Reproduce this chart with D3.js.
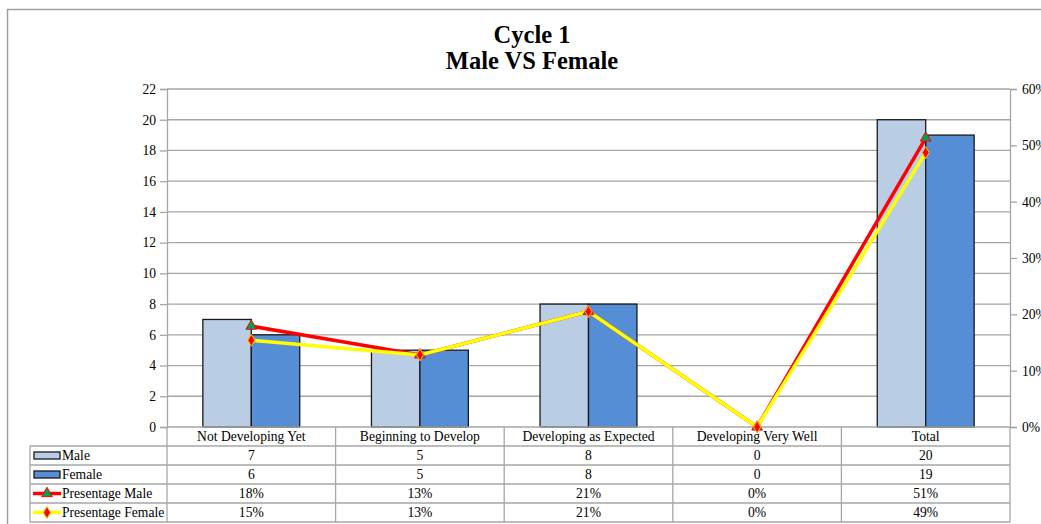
<!DOCTYPE html>
<html><head><meta charset="utf-8">
<script src="https://cdn.jsdelivr.net/npm/d3@7"></script>
<style>body{margin:0;background:#fff;} svg{display:block;font-family:"Liberation Serif","Times New Roman",serif;}</style>
</head><body>
<script>
const categories = ["Not Developing Yet","Beginning to Develop","Developing as Expected","Developing Very Well","Total"];
const maleValues = [7,5,8,0,20];
const femaleValues = [6,5,8,0,19];
const pctMale = [0.179,0.128,0.205,0,0.513];
const pctFemale = [0.154,0.128,0.205,0,0.487];
const pctMaleLabels = ["18%","13%","21%","0%","51%"];
const pctFemaleLabels = ["15%","13%","21%","0%","49%"];
const leftTicks = [0,2,4,6,8,10,12,14,16,18,20,22];
const rightTicks = [0,0.1,0.2,0.3,0.4,0.5,0.6];
const seriesNames = ["Male","Female","Presentage Male","Presentage Female"];

const W=1041,H=524;
const svg=d3.select("body").append("svg").attr("width",W).attr("height",H);
const L=167,R=1010,T=89,B=427;
const grid="#a6a6a6";
const fs=13.6;

// outer border
svg.append("path").attr("d",`M7.5,${H} V9.5 H${W}`).attr("fill","none").attr("stroke","#a0a0a0").attr("stroke-width",1.5);

// title
svg.append("text").attr("x",532).attr("y",43).attr("text-anchor","middle").attr("font-size",24.5).attr("font-weight","bold").text("Cycle 1");
svg.append("text").attr("x",532).attr("y",69).attr("text-anchor","middle").attr("font-size",24.5).attr("font-weight","bold").text("Male VS Female");

const x=d3.scaleBand().domain(categories).range([L,R]);
const x1=d3.scaleBand().domain(["Male","Female"]).range([0,x.bandwidth()]).paddingInner(0).paddingOuter(0.74);
const y=d3.scaleLinear().domain([0,22]).range([B,T]);
const y2=d3.scaleLinear().domain([0,0.6]).range([B,T]);

// gridlines
svg.append("g").selectAll("line").data(leftTicks.filter(d=>d>0)).join("line")
  .attr("x1",L).attr("x2",R).attr("y1",d=>y(d)).attr("y2",d=>y(d)).attr("stroke",grid).attr("stroke-width",1.3);

// left axis
const ax=svg.append("g").attr("transform",`translate(${L},0)`).call(d3.axisLeft(y).tickValues(leftTicks).tickSize(7).tickPadding(4));
ax.select(".domain").attr("stroke",grid).attr("stroke-width",1.3);
ax.selectAll(".tick line").attr("stroke",grid).attr("stroke-width",1.3);
ax.selectAll("text").attr("font-size",fs).attr("fill","#000").attr("font-family","Liberation Serif");

// right axis
const ar=svg.append("g").attr("transform",`translate(${R},0)`).call(d3.axisRight(y2).tickValues(rightTicks).tickFormat(d3.format(".0%")).tickSize(7).tickPadding(5));
ar.select(".domain").attr("stroke",grid).attr("stroke-width",1.3);
ar.selectAll(".tick line").attr("stroke",grid).attr("stroke-width",1.3);
ar.selectAll("text").attr("font-size",fs).attr("fill","#000").attr("font-family","Liberation Serif");

// bars
const barData=[];
categories.forEach((c,i)=>{barData.push({c,s:"Male",v:maleValues[i]});barData.push({c,s:"Female",v:femaleValues[i]});});
const colors={Male:"#b9cde5",Female:"#558ed5"};
svg.append("g").selectAll("rect").data(barData).join("rect")
  .attr("x",d=>x(d.c)+x1(d.s)).attr("width",x1.bandwidth())
  .attr("y",d=>y(d.v)).attr("height",d=>B-y(d.v))
  .attr("fill",d=>colors[d.s]).attr("stroke","#1a1a1a").attr("stroke-width",1.3);

// bottom axis line
svg.append("line").attr("x1",L).attr("x2",R).attr("y1",B).attr("y2",B).attr("stroke",grid).attr("stroke-width",1.3);

const cx=c=>x(c)+x.bandwidth()/2;
const line=d3.line();
const ptsM=categories.map((c,i)=>[cx(c),y2(pctMale[i])]);
const ptsF=categories.map((c,i)=>[cx(c),y2(pctFemale[i])]);
svg.append("path").attr("d",line(ptsM)).attr("fill","none").attr("stroke","#ff0000").attr("stroke-width",3.5);
svg.append("path").attr("d",line(ptsF)).attr("fill","none").attr("stroke","#ffff00").attr("stroke-width",3.5);
const tri=d3.symbol().type(d3.symbolTriangle).size(50);
const dia=d3.symbol().type(d3.symbolDiamond).size(42);
svg.append("g").selectAll("path").data(ptsM).join("path").attr("d",tri).attr("transform",d=>`translate(${d[0]},${d[1]})`)
  .attr("fill","#00a050").attr("stroke","#ff0000").attr("stroke-width",1);
svg.append("g").selectAll("path").data(ptsF).join("path").attr("d",dia).attr("transform",d=>`translate(${d[0]},${d[1]})`)
  .attr("fill","#ff0000").attr("stroke","#ffc000").attr("stroke-width",1);

// data table
const rowY=[427,446,465,484,503,522];
const TL=30;
const tg=svg.append("g");
const bounds=[L,...categories.map(c=>x(c)+x.bandwidth())];
bounds.forEach(bx=>tg.append("line").attr("x1",bx).attr("x2",bx).attr("y1",B).attr("y2",rowY[5]).attr("stroke",grid).attr("stroke-width",1.3));
tg.append("line").attr("x1",TL).attr("x2",TL).attr("y1",rowY[1]).attr("y2",rowY[5]).attr("stroke",grid).attr("stroke-width",1.3);
rowY.slice(1).forEach(ry=>tg.append("line").attr("x1",TL).attr("x2",R).attr("y1",ry).attr("y2",ry).attr("stroke",grid).attr("stroke-width",1.3));

const rows=[categories,maleValues.map(String),femaleValues.map(String),pctMaleLabels,pctFemaleLabels];
rows.forEach((r,ri)=>{
  r.forEach((t,ci)=>{
    tg.append("text").attr("x",cx(categories[ci])).attr("y",(rowY[ri]+rowY[ri+1])/2+4.7).attr("text-anchor","middle").attr("font-size",fs).text(t);
  });
});
// legend column
seriesNames.forEach((s,i)=>{
  const my=(rowY[i+1]+rowY[i+2])/2;
  if(i<2){
    tg.append("rect").attr("x",34).attr("y",my-3.5).attr("width",26).attr("height",7).attr("fill",colors[s]).attr("stroke","#1a1a1a").attr("stroke-width",1.3);
  } else {
    tg.append("line").attr("x1",33).attr("x2",61).attr("y1",my).attr("y2",my).attr("stroke",i===2?"#ff0000":"#ffff00").attr("stroke-width",3.5);
    tg.append("path").attr("d",i===2?tri:dia).attr("transform",`translate(47,${my})`)
      .attr("fill",i===2?"#00a050":"#ff0000").attr("stroke",i===2?"#ff0000":"#ffc000").attr("stroke-width",1);
  }
  tg.append("text").attr("x",62).attr("y",my+4.7).attr("font-size",fs).text(s);
});
</script>
</body></html>
